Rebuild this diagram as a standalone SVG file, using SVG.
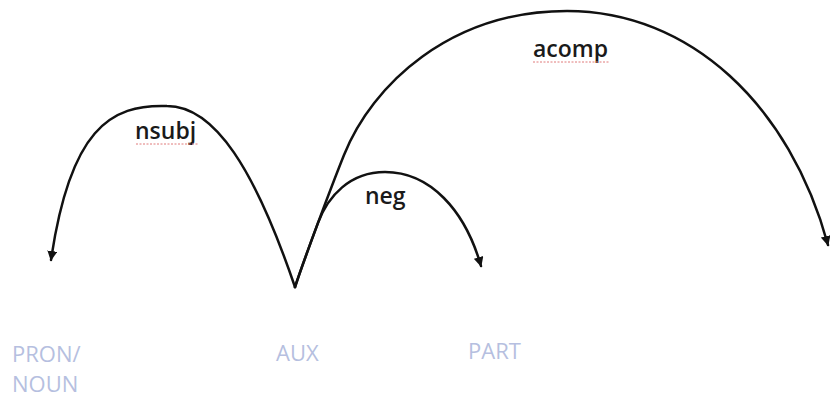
<svg xmlns="http://www.w3.org/2000/svg" width="830" height="398" viewBox="0 0 830 398">
<style>
.arc{fill:none;stroke:#111;stroke-width:2.5;stroke-linecap:round;stroke-linejoin:round}
.lbl{font-family:"Open Sans","Noto Sans",sans-serif;font-weight:600;font-size:23px;fill:#1a1a1a}
.pos{font-family:"Open Sans","Noto Sans",sans-serif;font-size:22px;fill:#b6bfe0}
.spell{fill:none;stroke:#e07a7a;stroke-width:1;stroke-dasharray:2 1.5}
</style>
<defs>
<marker id="ah" viewBox="0 0 10 10" refX="9" refY="5" markerWidth="4" markerHeight="4" markerUnits="strokeWidth" orient="auto">
<path d="M0,0 L10,5 L0,10 z" fill="#111"/>
</marker>
</defs>
<rect width="830" height="398" fill="#fff"/>
<g id="connectors">
<path id="e-nsubj" class="arc" marker-end="url(#ah)" d="M295,287 C255,170 215,106 167,106 C110,104 70,130 51,260"/>
<path id="e-neg" class="arc" marker-end="url(#ah)" d="M295,287 C300,272 308.75,247.75 318,222.9 C328,196 350,172 385,172 C430,172 465,210 481,266"/>
<path id="e-acomp" class="arc" marker-end="url(#ah)" d="M295,287 C305,257 330,190 344,155 C372,85 450,11 567,11 C690,11 790,105 828,245"/>
</g>
<g id="label-nsubj"><text class="lbl" x="135" y="139">nsubj</text><path class="spell" d="M136,144 L198,144"/></g>
<g id="label-neg"><text class="lbl" x="365" y="204">neg</text></g>
<g id="label-acomp"><text class="lbl" x="533" y="57">acomp</text><path class="spell" d="M533,62 L610,62"/></g>
<g id="node-pron"><text class="pos" x="12" y="362">PRON/</text><text class="pos" x="12" y="392">NOUN</text></g>
<g id="node-aux"><text class="pos" x="276" y="361">AUX</text></g>
<g id="node-part"><text class="pos" x="468" y="359">PART</text></g>
</svg>
